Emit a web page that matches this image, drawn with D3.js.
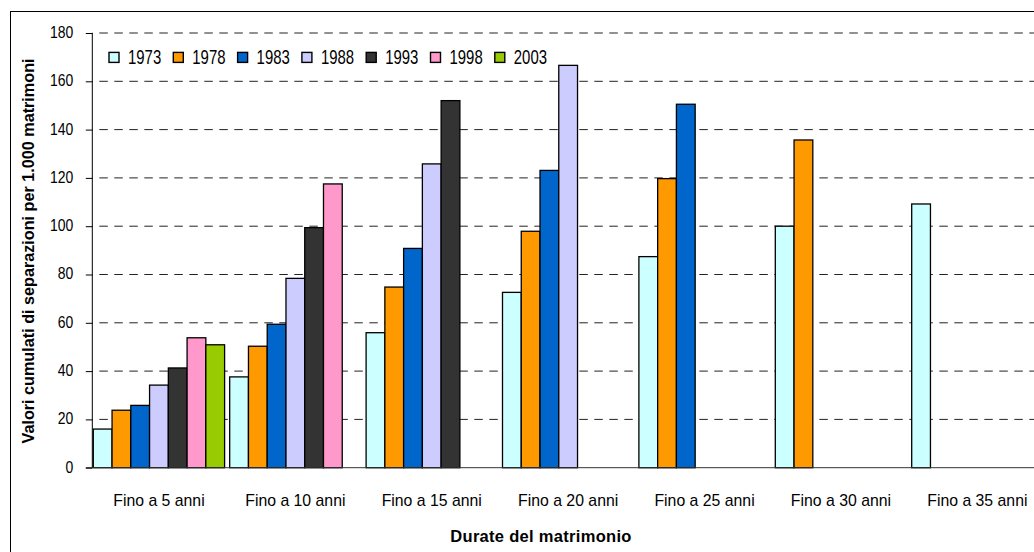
<!DOCTYPE html>
<html>
<head>
<meta charset="utf-8">
<script src="https://cdn.jsdelivr.net/npm/d3@7"></script>
<style>
  html, body { margin: 0; padding: 0; background: #fff; }
  svg { display: block; font-family: "Liberation Sans", Arial, sans-serif; }
</style>
</head>
<body>
<svg id="chart" width="1034" height="552"></svg>
<script>
// Durata del matrimonio (classi cumulate)
const categories = ["Fino a 5 anni", "Fino a 10 anni", "Fino a 15 anni", "Fino a 20 anni",
                    "Fino a 25 anni", "Fino a 30 anni", "Fino a 35 anni"];
// Coorti di matrimonio
const years = ["1973", "1978", "1983", "1988", "1993", "1998", "2003"];
// Separazioni cumulate per 1.000 matrimoni, per coorte
const v1973 = [16.0, 37.6, 55.9, 72.6, 87.4, 100.0, 109.2];
const v1978 = [23.8, 50.3, 74.8, 97.9, 119.7, 135.7, null];
const v1983 = [25.8, 59.4, 90.8, 123.1, 150.5, null, null];
const v1988 = [34.2, 78.4, 125.8, 166.6, null, null, null];
const v1993 = [41.3, 99.4, 152.0, null, null, null, null];
const v1998 = [53.8, 117.5, null, null, null, null, null];
const v2003 = [50.9, null, null, null, null, null, null];
const yTicks = [0, 20, 40, 60, 80, 100, 120, 140, 160, 180];
const colors = ["#CCFFFF", "#FF9900", "#0066CC", "#CCCCFF", "#333333", "#FF99CC", "#99CC00"];

const seriesValues = [v1973, v1978, v1983, v1988, v1993, v1998, v2003];
const rows = [];
categories.forEach((c, ci) => {
  years.forEach((yr, si) => {
    const v = seriesValues[si][ci];
    if (v != null) rows.push({ cat: c, year: yr, value: v });
  });
});

const svg = d3.select("#chart");
const W = 1034, H = 552;

// layout
const axisX = 92.3;
const step = 136.4;
const innerPad = 0.0374;
const bandStart = 90.75;
const y = d3.scaleLinear().domain([0, 180]).range([467.7, 33]);
const x0 = d3.scaleBand().domain(categories)
  .range([bandStart, bandStart + step * categories.length])
  .paddingInner(innerPad).paddingOuter(innerPad / 2);
const x1 = d3.scaleBand().domain(years).range([0, x0.bandwidth()]);
const color = d3.scaleOrdinal().domain(years).range(colors);

// compress text horizontally to a fraction of its natural width
function squeeze(sel, k) {
  sel.each(function () {
    const w = this.getComputedTextLength();
    d3.select(this).attr("textLength", w * k).attr("lengthAdjust", "spacingAndGlyphs");
  });
}

// outer chart frame
svg.append("rect")
  .attr("x", 10.5).attr("y", 11.5)
  .attr("width", W + 40).attr("height", H + 40)
  .attr("fill", "none").attr("stroke", "#000").attr("stroke-width", 1);

// dashed gridlines
svg.append("g").selectAll("line")
  .data(yTicks.filter(d => d > 0))
  .join("line")
  .attr("x1", axisX).attr("x2", W)
  .attr("y1", d => y(d)).attr("y2", d => y(d))
  .attr("stroke", "#222").attr("stroke-width", 1)
  .attr("stroke-dasharray", "8.5,6.5")
  .attr("stroke-dashoffset", -7);

// bars
svg.append("g").selectAll("rect")
  .data(rows)
  .join("rect")
  .attr("x", d => x0(d.cat) + x1(d.year))
  .attr("y", d => y(d.value))
  .attr("width", x1.bandwidth())
  .attr("height", d => y(0) - y(d.value))
  .attr("fill", d => color(d.year))
  .attr("stroke", "#000").attr("stroke-width", 1.3);

// baseline (category axis)
svg.append("line")
  .attr("x1", axisX - 6.5).attr("x2", W)
  .attr("y1", y(0)).attr("y2", y(0))
  .attr("stroke", "#333").attr("stroke-width", 1);

// value axis
const yAxis = d3.axisLeft(y).tickValues(yTicks).tickSize(6.5).tickPadding(12.5).tickFormat(d3.format("d"));
const gy = svg.append("g").attr("transform", `translate(${axisX},0)`).call(yAxis);
gy.select(".domain").attr("d", `M0,${y(180)}V${y(0)}`).attr("stroke", "#000");
gy.selectAll(".tick line").attr("stroke", "#000");
gy.selectAll(".tick text")
  .attr("font-family", "Liberation Sans, Arial, sans-serif")
  .attr("font-size", 17).attr("fill", "#000")
  .attr("dy", null).attr("y", 4.4)
  .call(squeeze, 0.82);

// category labels
svg.append("g").selectAll("text")
  .data(categories)
  .join("text")
  .attr("x", d => x0(d) + x0.bandwidth() / 2)
  .attr("y", 505.6)
  .attr("text-anchor", "middle")
  .attr("font-size", 17).attr("fill", "#000")
  .text(d => d)
  .call(squeeze, 0.93);

// axis titles
svg.append("text")
  .attr("transform", "translate(33.5,251) rotate(-90)")
  .attr("text-anchor", "middle")
  .attr("font-size", 16.2).attr("font-weight", "bold").attr("fill", "#000")
  .text("Valori cumulati di separazioni per 1.000 matrimoni");

svg.append("text")
  .attr("x", 541).attr("y", 541.7)
  .attr("text-anchor", "middle")
  .attr("font-size", 16.5).attr("font-weight", "bold").attr("fill", "#000")
  .attr("letter-spacing", 0.3)
  .text("Durate del matrimonio");

// legend
const legendStep = 64.3;
const lg = svg.append("g").attr("transform", "translate(109,0)");
const items = lg.selectAll("g").data(years).join("g")
  .attr("transform", (d, i) => `translate(${i * legendStep},0)`);
items.append("rect")
  .attr("x", 0).attr("y", 52.4).attr("width", 10).attr("height", 10)
  .attr("fill", d => color(d)).attr("stroke", "#000").attr("stroke-width", 1.4);
items.append("text")
  .attr("x", 19).attr("y", 63.8)
  .attr("font-size", 21).attr("fill", "#000")
  .text(d => d)
  .call(squeeze, 0.71);
</script>
</body>
</html>
